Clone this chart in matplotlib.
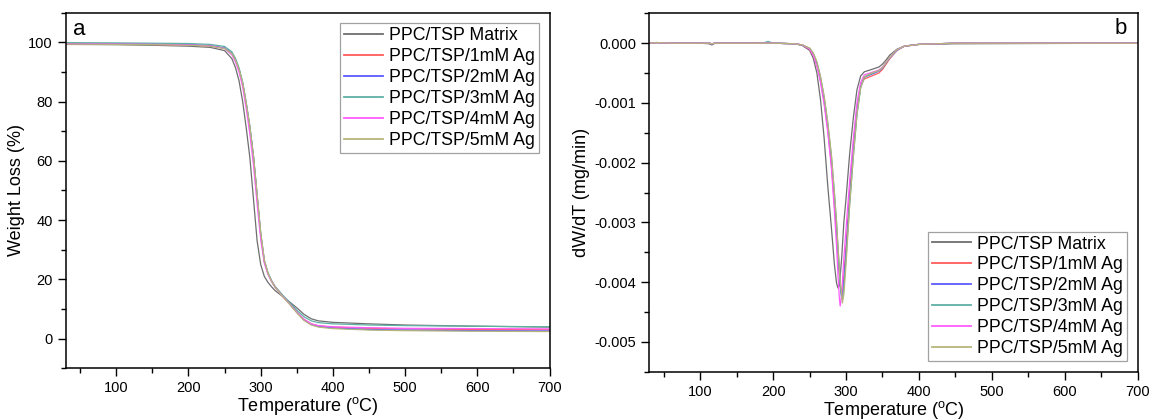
import matplotlib
matplotlib.use("Agg")
import matplotlib.pyplot as plt
from matplotlib.ticker import MultipleLocator, FormatStrFormatter

plt.rcParams['font.family'] = ['Liberation Sans', 'DejaVu Sans']
plt.rcParams['mathtext.fontset'] = 'custom'
plt.rcParams['mathtext.rm'] = 'Liberation Sans'
plt.rcParams['axes.unicode_minus'] = False

LABELS = ["PPC/TSP Matrix", "PPC/TSP/1mM Ag", "PPC/TSP/2mM Ag",
          "PPC/TSP/3mM Ag", "PPC/TSP/4mM Ag", "PPC/TSP/5mM Ag"]
COLORS = ["#6e6e6e", "#ff5c5c", "#5c5cff", "#5fb0a6", "#ff5cff", "#b5b57a"]

# ---- panel a: TGA (weight %) ----
tga_temp = [30, 100, 150, 200, 230, 250, 260, 265, 270, 275, 280, 285, 290, 295,
            300, 305, 310, 315, 320, 330, 340, 350, 360, 370, 380, 400, 450, 500, 600, 700]
tga_matrix = [99.3, 99.2, 99.0, 98.7, 98.3, 97.2, 94.5, 91.5, 87.0, 80.0, 71.0, 61.0, 47.0, 33.0,
              25.0, 21.0, 19.0, 17.5, 16.2, 14.3, 12.4, 10.4, 8.2, 6.7, 6.0, 5.5, 5.0, 4.6, 4.2, 3.9]
tga_1mm = [99.5, 99.4, 99.3, 99.1, 98.8, 98.0, 96.2, 94.0, 90.8, 86.0, 79.0, 71.0, 61.0, 48.0,
           35.0, 26.0, 22.0, 19.5, 17.5, 14.6, 11.9, 9.0, 6.5, 5.0, 4.3, 3.9, 3.5, 3.3, 3.1, 3.0]
tga_2mm = [99.6, 99.5, 99.4, 99.2, 98.9, 98.1, 96.3, 94.2, 91.0, 86.2, 79.2, 71.3, 61.3, 48.3,
           35.2, 26.2, 22.0, 19.4, 17.4, 14.5, 11.8, 8.9, 6.3, 4.8, 4.1, 3.6, 3.1, 2.9, 2.7, 2.6]
tga_3mm = [99.9, 99.8, 99.7, 99.6, 99.3, 98.6, 96.8, 94.6, 91.3, 86.5, 79.5, 71.5, 61.5, 48.5,
           35.5, 26.5, 22.3, 19.6, 17.6, 14.8, 12.2, 9.6, 7.4, 6.0, 5.4, 5.0, 4.6, 4.4, 4.2, 4.0]
tga_4mm = [99.5, 99.4, 99.3, 99.1, 98.8, 97.9, 95.8, 93.4, 90.0, 85.0, 77.5, 69.0, 58.5, 45.5,
           33.5, 25.5, 21.7, 19.3, 17.3, 14.4, 11.7, 8.9, 6.5, 5.0, 4.4, 4.0, 3.7, 3.5, 3.4, 3.3]
tga_5mm = [99.4, 99.3, 99.2, 99.0, 98.7, 97.9, 96.2, 94.1, 91.0, 86.3, 79.4, 71.5, 61.6, 48.8,
           35.8, 26.5, 22.1, 19.4, 17.3, 14.3, 11.6, 8.7, 6.1, 4.6, 3.9, 3.4, 2.9, 2.7, 2.5, 2.4]

# ---- panel b: DTG (mg/min) ----
dtg_temp = [30, 40, 60, 100, 112, 116, 120, 180, 188, 193, 200, 230, 240, 250, 255, 260, 265,
            270, 275, 280, 284, 287, 289, 291, 292, 294, 295, 297, 300, 305, 310, 315, 320,
            325, 335, 345, 350, 355, 360, 370, 380, 400, 450, 700]
dtg_matrix = [0.0, 0.00001, 0.0, 0.0, -0.00001, -0.00003, 0.0, 0.0, 0.0, 0.0, 0.0, -0.00001, -0.00004,
              -0.00012, -0.00025, -0.0005, -0.00095, -0.0016, -0.0024, -0.0031, -0.0037, -0.00402,
              -0.0041, -0.00405, -0.0039, -0.0036, -0.0034, -0.003, -0.0026, -0.00185, -0.00125,
              -0.00078, -0.00055, -0.00048, -0.00044, -0.0004, -0.00035, -0.00028, -0.0002, -0.0001,
              -0.00005, -0.00002, -0.00001, 0.0]
dtg_1mm = [0.0, 0.00001, 0.0, 0.0, 0.0, -0.00001, 0.0, 0.0, 0.0, 0.0, 0.0, -0.00001, -0.00003,
           -0.0001, -0.0002, -0.00037, -0.00063, -0.00098, -0.00145, -0.00205, -0.0027, -0.0032,
           -0.00355, -0.0039, -0.00405, -0.00423, -0.0042, -0.0039, -0.0034, -0.0025, -0.00175,
           -0.0011, -0.00072, -0.0006, -0.00055, -0.0005, -0.00044, -0.00035, -0.00026, -0.00012,
           -0.00005, -0.00002, 0.0, 0.0]
dtg_2mm = [0.0, 0.00001, 0.0, 0.0, 0.0, -0.00001, 0.0, 0.0, 0.0, 0.0, 0.0, -0.00001, -0.00003,
           -0.00009, -0.00018, -0.00034, -0.0006, -0.00095, -0.0014, -0.00198, -0.0026, -0.0031,
           -0.0035, -0.0039, -0.00405, -0.00428, -0.00425, -0.004, -0.0035, -0.0026, -0.0018,
           -0.00115, -0.00072, -0.00057, -0.00052, -0.00047, -0.00042, -0.00033, -0.00025, -0.00012,
           -0.00005, -0.00002, 0.0, 0.0]
dtg_3mm = [0.0, 0.00001, 0.0, 0.0, 0.0, -0.00001, 0.0, 0.0, 0.00001, 0.00003, 0.0, -0.00001, -0.00003,
           -0.00009, -0.00017, -0.00032, -0.00057, -0.0009, -0.00135, -0.0019, -0.0025, -0.003,
           -0.00345, -0.0038, -0.004, -0.00425, -0.0043, -0.0041, -0.0036, -0.0027, -0.0019,
           -0.0012, -0.00075, -0.00057, -0.00051, -0.00046, -0.00041, -0.00032, -0.00024, -0.00011,
           -0.00005, -0.00002, 0.0, 0.0]
dtg_4mm = [0.0, 0.00001, 0.0, 0.0, 0.0, -0.00001, 0.0, 0.0, 0.0, 0.0, 0.0, -0.00001, -0.00003,
           -0.0001, -0.0002, -0.00038, -0.00066, -0.00103, -0.0015, -0.0021, -0.0028, -0.0034,
           -0.0039, -0.0043, -0.0044, -0.0042, -0.004, -0.0036, -0.0031, -0.0023, -0.0016,
           -0.001, -0.00066, -0.00053, -0.00049, -0.00045, -0.0004, -0.00032, -0.00024, -0.00011,
           -0.00005, -0.00002, 0.0, 0.0]
dtg_5mm = [0.0, 0.00001, 0.0, 0.0, 0.0, -0.00001, 0.0, 0.0, 0.0, 0.0, 0.0, -0.00001, -0.00003,
           -0.00008, -0.00016, -0.00031, -0.00056, -0.00089, -0.00133, -0.00188, -0.0025, -0.003,
           -0.0034, -0.0038, -0.004, -0.0042, -0.00435, -0.0042, -0.0037, -0.0027, -0.0019,
           -0.0012, -0.00075, -0.00056, -0.0005, -0.00046, -0.00041, -0.00032, -0.00024, -0.00011,
           -0.00005, -0.00002, 0.0, 0.0]

tga_series = [tga_matrix, tga_1mm, tga_2mm, tga_3mm, tga_4mm, tga_5mm]
dtg_series = [dtg_matrix, dtg_1mm, dtg_2mm, dtg_3mm, dtg_4mm, dtg_5mm]

fig = plt.figure(figsize=(11.51, 4.2), dpi=100)
ax_a = fig.add_axes([0.0571, 0.1231, 0.4204, 0.8467])
ax_b = fig.add_axes([0.5641, 0.1150, 0.4242, 0.8533])


def style_axes(ax):
    for s in ax.spines.values():
        s.set_linewidth(1.1)
    ax.tick_params(which='major', direction='out', length=6, width=1.0, labelsize=10.5,
                   top=False, right=False)
    ax.tick_params(which='minor', direction='out', length=3.5, width=1.0,
                   top=False, right=False)
    ax.set_xlim(30, 700)
    ax.xaxis.set_major_locator(MultipleLocator(100))
    ax.xaxis.set_minor_locator(MultipleLocator(50))
    ax.set_xlabel('Temperature ($^{\\mathrm{o}}$C)', fontsize=13, labelpad=0)


def add_legend(ax, loc):
    leg = ax.legend(loc=loc, fontsize=12.8, frameon=True, fancybox=False, labelspacing=0.22,
                    borderpad=0.22, handlelength=2.2, handletextpad=0.35, borderaxespad=0.6)
    leg.get_frame().set_edgecolor('#8a8a8a')
    leg.get_frame().set_linewidth(0.9)
    for line in leg.get_lines():
        line.set_linewidth(1.3)


for vals, lab, col in zip(tga_series, LABELS, COLORS):
    ax_a.plot(tga_temp, vals, color=col, lw=0.9, label=lab)
style_axes(ax_a)
ax_a.set_ylim(-10, 110)
ax_a.yaxis.set_major_locator(MultipleLocator(20))
ax_a.yaxis.set_minor_locator(MultipleLocator(10))
ax_a.set_ylabel('Weight Loss (%)', fontsize=13, labelpad=2)
ax_a.text(0.027, 0.954, 'a', transform=ax_a.transAxes, fontsize=16, ha='center', va='center')
add_legend(ax_a, 'upper right')

for vals, lab, col in zip(dtg_series, LABELS, COLORS):
    ax_b.plot(dtg_temp, vals, color=col, lw=0.9, label=lab)
style_axes(ax_b)
ax_b.set_ylim(-0.0055, 0.0005)
ax_b.yaxis.set_major_locator(MultipleLocator(0.001))
ax_b.yaxis.set_minor_locator(MultipleLocator(0.0005))
ax_b.yaxis.set_major_formatter(FormatStrFormatter('%.3f'))
ax_b.set_ylabel('dW/dT (mg/min)', fontsize=13, labelpad=3)
ax_b.text(0.966, 0.959, 'b', transform=ax_b.transAxes, fontsize=16, ha='center', va='center')
add_legend(ax_b, 'lower right')

fig.savefig('out.png', dpi=100)
